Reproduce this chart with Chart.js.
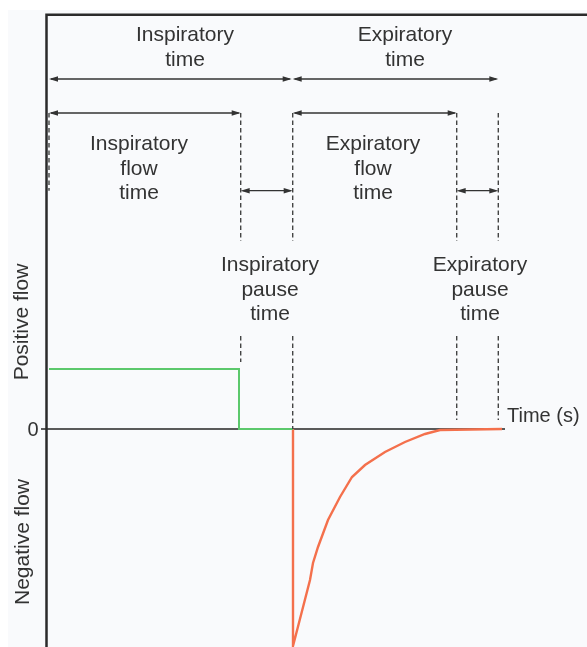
<!DOCTYPE html>
<html>
<head>
<meta charset="utf-8">
<script src="https://cdn.jsdelivr.net/npm/chart.js@4/dist/chart.umd.min.js"></script>
<style>
  html, body { margin: 0; padding: 0; background: #ffffff; }
  #wrap { position: relative; width: 587px; height: 647px; }
  canvas { position: absolute; left: 0; top: 0; }
</style>
</head>
<body>
<div id="wrap"><canvas id="c" width="587" height="647"></canvas></div>
<script>
// ---- Data (time in s, flow in arbitrary units) ----
const inspTime = [0, 1.90, 1.90, 2.44];
const inspFlow = [0.60, 0.60, 0, 0];
const expTime = [2.44, 2.44, 2.61, 2.64, 2.69, 2.79, 2.91, 3.03, 3.16, 3.36, 3.56, 3.76, 3.91, 4.53];
const expFlow = [0, -2.17, -1.51, -1.34, -1.18, -0.91, -0.68, -0.48, -0.36, -0.23, -0.13, -0.05, -0.01, 0];
// phase boundaries: start, end insp. flow, end insp. pause, end exp. flow, end exp. pause
const phaseBounds = [0, 1.917, 2.437, 4.077, 4.493];
const yTickValues = [0];
const yTickLabels = ['0'];
const xAxisTitle = 'Time (s)';
const posTitle = 'Positive flow';
const negTitle = 'Negative flow';
const topLabels = [['Inspiratory', 'time'], ['Expiratory', 'time']];
const flowLabels = [['Inspiratory', 'flow', 'time'], ['Expiratory', 'flow', 'time']];
const pauseLabels = [['Inspiratory', 'pause', 'time'], ['Expiratory', 'pause', 'time']];

const FONT = '"Liberation Sans", Arial, Helvetica, sans-serif';
const TXT = '#333333';

function toPts(xs, ys) { return xs.map((x, i) => ({ x: x, y: ys[i] })); }

function arrow(ctx, x1, x2, y) {
  const L = 9, H = 2.8;
  ctx.save();
  ctx.strokeStyle = '#333'; ctx.fillStyle = '#333'; ctx.lineWidth = 1.3;
  ctx.beginPath(); ctx.moveTo(x1 + 2, y); ctx.lineTo(x2 - 2, y); ctx.stroke();
  ctx.beginPath(); ctx.moveTo(x1, y); ctx.lineTo(x1 + L, y - H); ctx.lineTo(x1 + L, y + H); ctx.closePath(); ctx.fill();
  ctx.beginPath(); ctx.moveTo(x2, y); ctx.lineTo(x2 - L, y - H); ctx.lineTo(x2 - L, y + H); ctx.closePath(); ctx.fill();
  ctx.restore();
}
function dashed(ctx, x, y1, y2) {
  ctx.save();
  ctx.strokeStyle = '#444'; ctx.lineWidth = 1.4; ctx.setLineDash([4.5, 3]);
  ctx.beginPath(); ctx.moveTo(x, y1); ctx.lineTo(x, y2); ctx.stroke();
  ctx.restore();
}
function label(ctx, lines, cx, y0, size) {
  ctx.save();
  ctx.fillStyle = TXT; ctx.font = size + 'px ' + FONT;
  ctx.textAlign = 'center'; ctx.textBaseline = 'alphabetic';
  lines.forEach((t, i) => ctx.fillText(t, cx, y0 + i * 24.6));
  ctx.restore();
}

const framePlugin = {
  id: 'frame',
  beforeDraw(chart) {
    const ctx = chart.ctx;
    ctx.save();
    ctx.fillStyle = '#ffffff'; ctx.fillRect(0, 0, chart.width, chart.height);
    ctx.fillStyle = '#f9fafc'; ctx.fillRect(8, 10, chart.width - 8, chart.height - 10);
    ctx.restore();
  },
  beforeDatasetsDraw(chart) {
    const ctx = chart.ctx, xs = chart.scales.x, ys = chart.scales.y, a = chart.chartArea;
    ctx.save();
    // zero line + tick
    yTickValues.forEach((v, i) => {
      const py = ys.getPixelForValue(v);
      ctx.strokeStyle = '#5a5a5a'; ctx.lineWidth = 2;
      ctx.beginPath(); ctx.moveTo(a.left - 6, py); ctx.lineTo(xs.getPixelForValue(4.56), py); ctx.stroke();
      ctx.fillStyle = TXT; ctx.font = '20px ' + FONT; ctx.textAlign = 'center'; ctx.textBaseline = 'middle';
      ctx.fillText(yTickLabels[i], 33, py + 1);
      ctx.font = '20px ' + FONT; ctx.textAlign = 'left'; ctx.textBaseline = 'alphabetic';
      ctx.fillText(xAxisTitle, xs.getPixelForValue(4.58), py - 7);
    });
    // axis + top frame
    ctx.strokeStyle = '#2b2b2b'; ctx.lineWidth = 2.5;
    ctx.beginPath(); ctx.moveTo(a.left - 0.5, chart.height); ctx.lineTo(a.left - 0.5, a.top - 0.3); ctx.lineTo(chart.width, a.top - 0.3); ctx.stroke();
    // rotated titles
    ctx.fillStyle = TXT; ctx.font = '21px ' + FONT; ctx.textAlign = 'center'; ctx.textBaseline = 'alphabetic';
    ctx.save(); ctx.translate(28, ys.getPixelForValue(1.07)); ctx.rotate(-Math.PI / 2); ctx.fillText(posTitle, 0, 0); ctx.restore();
    ctx.save(); ctx.translate(28.5, ys.getPixelForValue(-1.13)); ctx.rotate(-Math.PI / 2); ctx.fillText(negTitle, 0, 0); ctx.restore();
    ctx.restore();
  },
  afterDatasetsDraw(chart) {
    const ctx = chart.ctx, xs = chart.scales.x, ys = chart.scales.y;
    const X = v => xs.getPixelForValue(v), Y = v => ys.getPixelForValue(v);
    const b = phaseBounds.map(X);
    const r1 = Y(3.50), r2 = Y(3.16), r3 = Y(2.383);
    // dashed guides
    dashed(ctx, b[0], r2, r3);
    [1, 2, 3, 4].forEach(i => dashed(ctx, b[i], r2, Y(1.88)));
    dashed(ctx, b[1], Y(0.93), Y(0.67));
    dashed(ctx, b[2], Y(0.93), Y(0));
    dashed(ctx, b[3], Y(0.93), Y(0.09));
    dashed(ctx, b[4], Y(0.93), Y(0.09));
    // arrows
    arrow(ctx, b[0], b[2] - 1, r1);
    arrow(ctx, b[2], b[4], r1);
    arrow(ctx, b[0], b[1], r2);
    arrow(ctx, b[2], b[3], r2);
    arrow(ctx, b[1], b[2], r3);
    arrow(ctx, b[3], b[4], r3);
    // labels
    label(ctx, topLabels[0], X(1.36), Y(3.88), 21);
    label(ctx, topLabels[1], X(3.56), Y(3.88), 21);
    label(ctx, flowLabels[0], X(0.90), Y(2.79), 21);
    label(ctx, flowLabels[1], X(3.24), Y(2.79), 21);
    label(ctx, pauseLabels[0], X(2.21), Y(1.58), 21);
    label(ctx, pauseLabels[1], X(4.31), Y(1.58), 21);
  }
};

new Chart(document.getElementById('c'), {
  type: 'scatter',
  data: {
    datasets: [
      { data: toPts(inspTime, inspFlow), showLine: true, borderColor: '#5cc86c', borderWidth: 2, pointRadius: 0, tension: 0, fill: false },
      { data: toPts(expTime, expFlow), showLine: true, borderColor: '#f4704c', borderWidth: 2.4, pointRadius: 0, tension: 0, fill: false }
    ]
  },
  options: {
    responsive: false, animation: false, devicePixelRatio: 1,
    layout: { padding: { left: 47, top: 15, right: 0, bottom: 0 } },
    scales: {
      x: { type: 'linear', min: -0.02, max: 5.38, display: false },
      y: { type: 'linear', min: -2.18, max: 4.14, display: false }
    },
    plugins: { legend: { display: false }, tooltip: { enabled: false } },
    events: []
  },
  plugins: [framePlugin]
});
</script>
</body>
</html>
